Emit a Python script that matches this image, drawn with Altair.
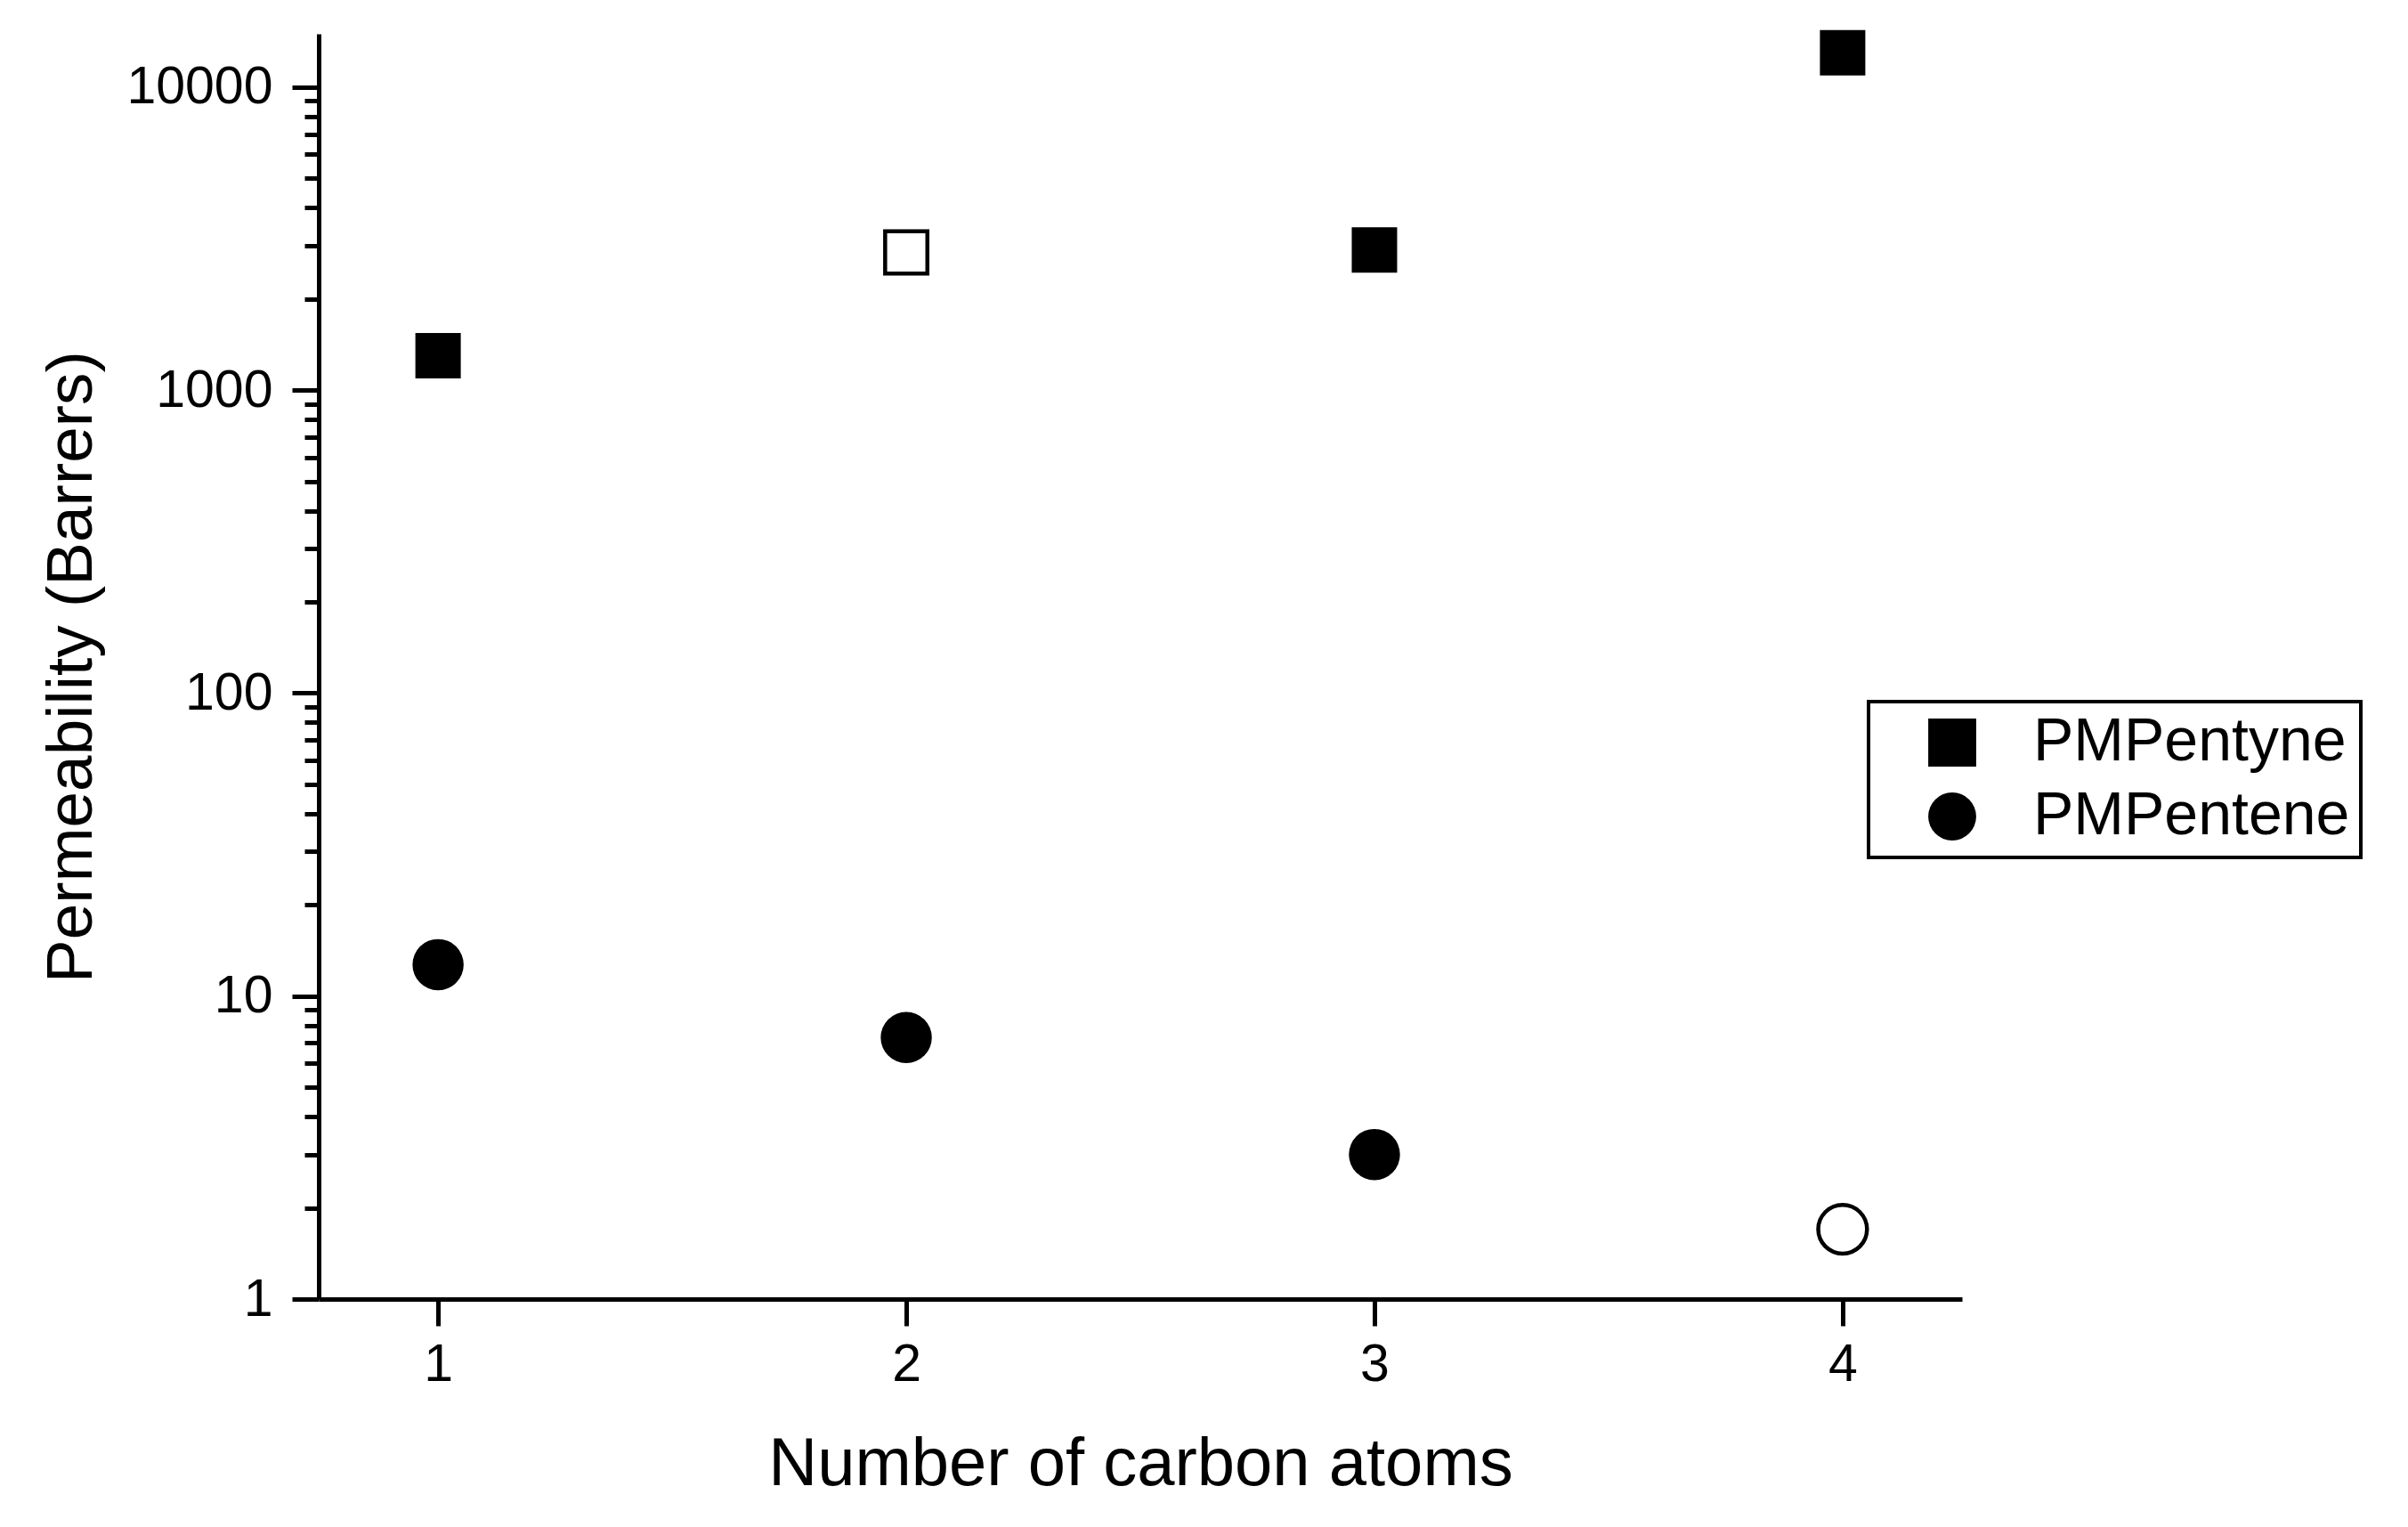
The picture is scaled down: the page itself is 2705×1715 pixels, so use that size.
import altair as alt
import pandas as pd

# values
carbon_atoms = [1, 2, 3, 4]
pmpentyne = [1300, 2850, 2900, 13000]
pmpentene = [12.7, 7.3, 3.0, 1.7]
pmpentyne_open = [False, True, False, False]
pmpentene_open = [False, False, False, True]

series_names = ["PMPentyne", "PMPentene"]
series_shapes = ["square", "circle"]

x_ticks = [1, 2, 3, 4]
decades = [1, 10, 100, 1000, 10000]
minor_steps = [2, 3, 4, 5, 6, 7, 8, 9]
y_ticks = sorted(decades + [d * m for d in decades[:-1] for m in minor_steps])

FONT = "Liberation Sans"

rows = []
for name, values, hollow in [("PMPentyne", pmpentyne, pmpentyne_open),
                             ("PMPentene", pmpentene, pmpentene_open)]:
    for c, v, h in zip(carbon_atoms, values, hollow):
        rows.append({"carbon": c, "perm": v, "polymer": name, "hollow": h})
df = pd.DataFrame(rows)

decade_test = "indexof([1, 10, 100, 1000, 10000], datum.value) >= 0"

x_enc = alt.X(
    "carbon:Q",
    scale=alt.Scale(domain=[0.745, 4.255], nice=False, zero=False),
    axis=alt.Axis(values=x_ticks, format="d", tickSize=30, labelPadding=14,
                  domainWidth=5, tickWidth=5,
                  title="Number of carbon atoms", titleY=208, titleFontSize=76,
                  titleBaseline="alphabetic", grid=False),
)
y_enc = alt.Y(
    "perm:Q",
    scale=alt.Scale(type="log", domain=[1, 15000], nice=False),
    axis=alt.Axis(
        values=y_ticks,
        tickSize={"condition": {"test": decade_test, "value": 30}, "value": 16},
        labelExpr=f"{decade_test} ? format(datum.value, 'd') : ''",
        labelOverlap=False, labelPadding=22, grid=False,
        domainWidth=5, tickWidth=5,
        title="Permeability (Barrers)", titleX=-256,
        titleBaseline="alphabetic",
    ),
)
shape_enc = alt.Shape(
    "polymer:N",
    scale=alt.Scale(domain=series_names, range=series_shapes),
    legend=alt.Legend(
        title=None, orient="none", legendX=1741, legendY=750,
        labelFontSize=68, labelFont=FONT, labelColor="black", labelLimit=0,
        symbolSize=2900, symbolFillColor="black", symbolStrokeColor="black",
        symbolStrokeWidth=0, symbolOpacity=1, symbolOffset=48,
        labelOffset=57, padding=12, rowPadding=15,
        strokeColor="black",
    ),
)
size_enc = alt.Size("msize:Q", scale=None)

base = alt.Chart(df).transform_calculate(
    msize="datum.polymer == 'PMPentyne' ? 2600 : 3300"
)

filled = base.transform_filter("!datum.hollow").mark_point(
    filled=True, color="black", opacity=1, strokeWidth=0
).encode(x=x_enc, y=y_enc, shape=shape_enc, size=size_enc)

hollow = base.transform_filter("datum.hollow").transform_calculate(
    msize="datum.polymer == 'PMPentyne' ? 2250 : 3000"
).mark_point(
    filled=False, color="black", fill="white", opacity=1, strokeWidth=4.5
).encode(x=x_enc, y=y_enc, shape=shape_enc, size=size_enc)

chart = alt.layer(filled, hollow).properties(
    width=1846, height=1421,
    autosize=alt.AutoSizeParams(type="none"),
    padding={"left": 350, "top": 30, "right": 480, "bottom": 240},
).configure_view(stroke=None).configure_axis(
    domainColor="black", domainWidth=5, tickColor="black", tickWidth=5,
    labelFont=FONT, labelFontSize=59, labelColor="black",
    titleFont=FONT, titleFontSize=73, titleFontWeight="normal", titleColor="black",
).configure_legend(strokeWidth=4)

chart.save("out.html", embed_options={"renderer": "svg", "actions": False})
